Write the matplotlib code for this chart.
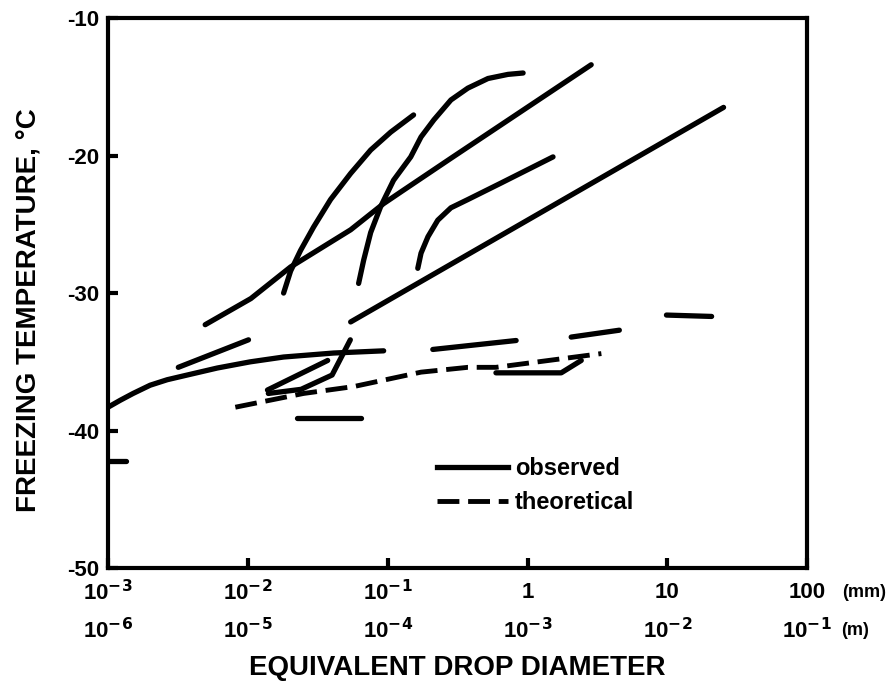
import matplotlib.pyplot as plt
from matplotlib.lines import Line2D
from matplotlib.transforms import blended_transform_factory

plt.rcParams['font.family'] = ['Liberation Sans', 'DejaVu Sans']
plt.rcParams['font.weight'] = 'bold'

# beobachtete Kurven: Durchmesser in mm, Gefriertemperatur in °C
obs_a_x = [0.00495, 0.0105, 0.0202, 0.0543, 0.0933, 0.124, 0.283, 2.85]
obs_a_y = [-32.3, -30.4, -28.1, -25.4, -23.5, -22.65, -20.2, -13.4]
obs_b_x = [0.0180, 0.0202, 0.0238, 0.0295, 0.0390, 0.0543, 0.0755, 0.105, 0.153]
obs_b_y = [-30.0, -28.4, -26.9, -25.2, -23.2, -21.3, -19.6, -18.3, -17.05]
obs_c_x = [0.0619, 0.0673, 0.0755, 0.0891, 0.110, 0.146, 0.173, 0.214, 0.283, 0.374, 0.521, 0.724, 0.929]
obs_c_y = [-29.3, -27.6, -25.6, -23.7, -21.8, -20.1, -18.65, -17.4, -15.96, -15.1, -14.4, -14.1, -14.0]
obs_d_x = [0.164, 0.173, 0.194, 0.228, 0.283, 0.374, 0.646, 1.52]
obs_d_y = [-28.2, -27.1, -25.9, -24.7, -23.8, -23.2, -22.0, -20.1]
obs_e_x = [0.0543, 25.2]
obs_e_y = [-32.1, -16.5]
obs_f_x = [0.00100, 0.00122, 0.00151, 0.00200, 0.00265, 0.00368, 0.00604, 0.0104, 0.0180, 0.0410, 0.0935]
obs_f_y = [-38.3, -37.8, -37.3, -36.7, -36.3, -35.96, -35.45, -35.0, -34.65, -34.36, -34.2]
obs_g_x = [0.00318, 0.0101]
obs_g_y = [-35.4, -33.4]
obs_j1_x = [0.0138, 0.0372]
obs_j1_y = [-37.05, -34.9]
obs_j2_x = [0.0140, 0.0240, 0.0400, 0.0540]
obs_j2_y = [-37.3, -37.0, -35.96, -33.4]
obs_m_x = [0.210, 0.828]
obs_m_y = [-34.1, -33.45]
obs_n_x = [2.05, 4.53]
obs_n_y = [-33.2, -32.7]
obs_o_x = [9.84, 20.7]
obs_o_y = [-31.6, -31.7]
obs_p_x = [0.0226, 0.0640]
obs_p_y = [-39.1, -39.1]
obs_q_x = [0.594, 1.74, 2.42]
obs_q_y = [-35.8, -35.8, -34.9]
obs_r_x = [0.001, 0.00135]
obs_r_y = [-42.2, -42.2]

# theoretische Kurve
theo_x = [0.00813, 0.0250, 0.0570, 0.173, 0.374, 0.594, 3.37]
theo_y = [-38.3, -37.3, -36.8, -35.75, -35.4, -35.4, -34.4]

# Achsenbeschriftungen
x_ticks = [1e-3, 1e-2, 1e-1, 1, 10, 100]
labels_mm = [r'10$^{\mathbf{-3}}$', r'10$^{\mathbf{-2}}$', r'10$^{\mathbf{-1}}$', '1', '10', '100']
labels_m = [r'10$^{\mathbf{-6}}$', r'10$^{\mathbf{-5}}$', r'10$^{\mathbf{-4}}$',
            r'10$^{\mathbf{-3}}$', r'10$^{\mathbf{-2}}$', r'10$^{\mathbf{-1}}$']
y_ticks = [-10, -20, -30, -40, -50]

observed = [(obs_a_x, obs_a_y), (obs_b_x, obs_b_y), (obs_c_x, obs_c_y), (obs_d_x, obs_d_y),
            (obs_e_x, obs_e_y), (obs_f_x, obs_f_y), (obs_g_x, obs_g_y), (obs_j1_x, obs_j1_y),
            (obs_j2_x, obs_j2_y), (obs_m_x, obs_m_y), (obs_n_x, obs_n_y), (obs_o_x, obs_o_y),
            (obs_p_x, obs_p_y), (obs_q_x, obs_q_y), (obs_r_x, obs_r_y)]

fig = plt.figure(figsize=(8.93, 6.92), dpi=100)
ax = fig.add_axes([0.121, 0.179, 0.783, 0.795])

for xs, ys in observed:
    ax.plot(xs, ys, color='black', lw=3.8, solid_capstyle='round', solid_joinstyle='round')
ax.plot(theo_x, theo_y, color='black', lw=3.5, dashes=(4.5, 1.8))

ax.set_xscale('log')
ax.set_xlim(1e-3, 100)
ax.set_ylim(-50, -10)

# Rahmen
for sp in ax.spines.values():
    sp.set_linewidth(3)

ax.set_xticks(x_ticks)
ax.set_xticklabels([])
ax.minorticks_off()
ax.set_yticks(y_ticks)
ax.set_yticklabels([f'-{abs(v)}' for v in y_ticks], fontsize=16, fontweight='bold')
ax.tick_params(axis='both', direction='in', length=7, width=3, pad=6)

# zweizeilige x-Beschriftung (mm und m)
trans = blended_transform_factory(ax.transData, ax.transAxes)
for xv, lab1, lab2 in zip(x_ticks, labels_mm, labels_m):
    ax.text(xv, -0.045, lab1, transform=trans, ha='center', va='center', fontsize=16, fontweight='bold')
    ax.text(xv, -0.113, lab2, transform=trans, ha='center', va='center', fontsize=16, fontweight='bold')
ax.text(1.05, -0.045, '(mm)', transform=ax.transAxes, ha='left', va='center', fontsize=13, fontweight='bold')
ax.text(1.048, -0.113, '(m)', transform=ax.transAxes, ha='left', va='center', fontsize=13, fontweight='bold')

ax.text(0.5, -0.158, 'EQUIVALENT DROP DIAMETER', transform=ax.transAxes, ha='center', va='top',
        fontsize=20, fontweight='bold')
fig.text(0.032, 0.552, 'FREEZING TEMPERATURE, °C', rotation=90, ha='center', va='center',
         fontsize=20, fontweight='bold')

handles = [Line2D([], [], color='black', lw=3.8),
           Line2D([], [], color='black', lw=3.5, dashes=(4.5, 1.8))]
ax.legend(handles, ['observed', 'theoretical'], loc='upper left', bbox_to_anchor=(0.44, 0.24),
          frameon=False, handlelength=3.0, handletextpad=0.3, labelspacing=0.45,
          prop={'size': 17, 'weight': 'bold'})

fig.savefig('out.png', dpi=100)
